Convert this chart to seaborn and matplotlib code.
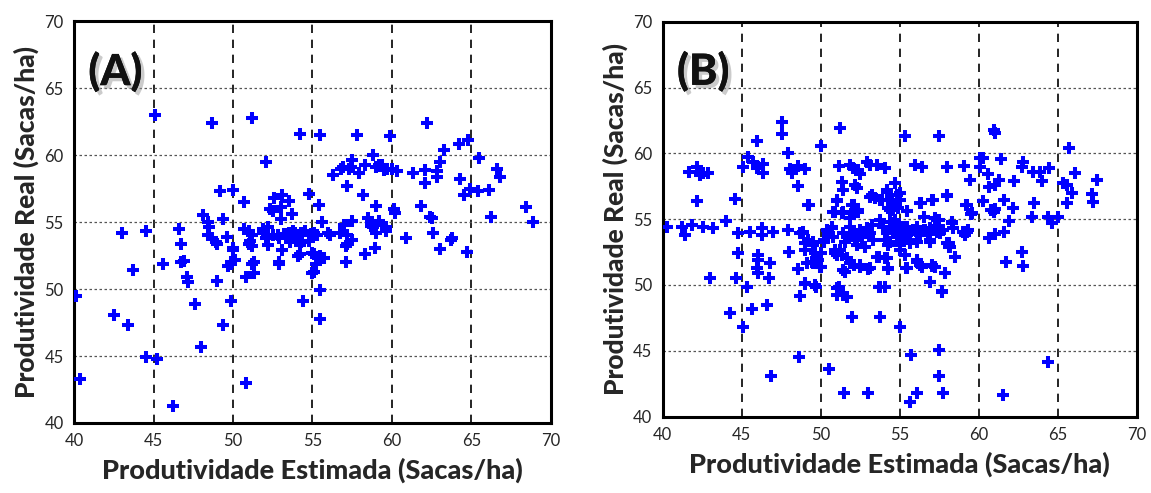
import numpy as np
import pandas as pd
import matplotlib
matplotlib.use("Agg")
import matplotlib.pyplot as plt
import matplotlib.patheffects as pe
import seaborn as sns

# Panel A - estimated vs real yield (sacas/ha)
est_a = [40.1, 40.4, 42.5, 43.0, 43.4, 43.7, 44.5, 44.5, 45.1, 45.2, 45.6, 46.2, 46.6, 46.7, 46.7,
         46.9, 47.1, 47.2, 47.6, 48.0, 48.1, 48.4, 48.4, 48.5, 48.7, 48.7, 48.9, 49.0, 49.0, 49.2,
         49.4, 49.4, 49.6, 49.9, 49.9, 49.9, 50.0, 50.0, 50.0, 50.1, 49.7, 50.7, 50.7, 50.8, 50.8,
         51.0, 51.1, 51.2, 51.2, 51.0, 51.2, 51.2, 51.3, 51.3, 51.9, 51.9, 52.1, 52.1, 52.2, 52.2,
         52.3, 52.5, 52.5, 52.6, 52.8, 52.9, 52.9, 52.9, 53.0, 53.0, 53.1, 53.1, 53.2, 53.4, 53.5,
         53.5, 53.6, 53.6, 53.7, 53.8, 53.9, 54.1, 54.2, 54.2, 54.2, 54.2, 54.3, 54.3, 54.1, 54.4,
         54.5, 54.8, 54.8, 54.9, 55.0, 55.0, 55.1, 55.1, 55.1, 55.2, 55.3, 55.4, 55.4, 55.5, 55.5,
         55.5, 55.5, 55.6, 55.7, 56.0, 56.1, 56.3, 56.7, 56.8, 56.9, 57.0, 57.1, 57.1, 57.2, 57.2,
         57.2, 57.3, 57.4, 57.5, 57.5, 57.5, 57.8, 57.9, 58.2, 58.3, 58.3, 58.5, 58.7, 58.7, 58.8,
         58.8, 58.9, 59.0, 59.0, 59.0, 59.2, 59.2, 59.4, 59.4, 59.5, 59.6, 59.6, 59.7, 59.9, 60.0,
         60.1, 60.2, 60.3, 60.9, 61.3, 61.8, 62.1, 62.1, 62.2, 62.4, 62.5, 62.6, 62.8, 62.8, 63.0,
         63.0, 63.3, 63.7, 63.8, 64.2, 64.3, 64.5, 64.7, 64.8, 64.9, 65.4, 65.5, 66.1, 66.2, 66.6,
         66.8, 68.4, 68.9]
real_a = [49.5, 43.3, 48.1, 54.2, 47.3, 51.4, 54.3, 44.9, 63.0, 44.8, 51.9, 41.3, 54.5, 53.4, 52.0,
          52.1, 50.9, 50.5, 48.9, 45.7, 55.5, 55.0, 54.0, 54.6, 62.4, 53.8, 53.5, 53.4, 50.6, 57.3,
          55.2, 47.3, 53.9, 52.0, 51.9, 49.1, 57.4, 53.1, 52.9, 52.2, 51.7, 56.5, 54.5, 50.9, 43.0,
          54.3, 53.6, 54.0, 53.2, 53.4, 62.8, 51.9, 51.2, 52.0, 54.2, 54.5, 59.5, 53.8, 54.6, 53.3,
          56.0, 55.8, 54.0, 56.8, 54.0, 53.8, 52.0, 51.9, 56.1, 55.2, 57.0, 52.9, 54.1, 54.1, 56.6,
          54.2, 53.5, 53.7, 55.6, 54.3, 54.2, 53.8, 53.3, 54.0, 61.6, 52.6, 53.5, 54.2, 52.5, 49.1,
          54.3, 53.6, 57.1, 54.1, 52.7, 51.2, 52.6, 51.3, 54.2, 51.9, 54.0, 52.4, 56.3, 61.5, 52.5,
          49.9, 47.8, 55.0, 52.3, 54.2, 54.0, 58.5, 54.2, 59.0, 59.1, 54.8, 52.0, 53.2, 57.7, 53.4,
          54.0, 59.0, 59.1, 53.7, 59.6, 55.1, 61.5, 58.7, 57.0, 59.3, 52.6, 55.3, 55.0, 54.7, 60.0,
          54.6, 53.1, 56.2, 59.1, 54.2, 55.1, 59.3, 54.8, 59.3, 58.9, 54.6, 54.3, 59.0, 61.4, 59.0,
          56.0, 55.7, 58.8, 53.8, 58.7, 56.2, 58.9, 57.9, 62.4, 55.4, 55.3, 54.2, 58.8, 58.4, 59.5,
          53.0, 60.4, 53.7, 53.8, 60.8, 58.2, 57.0, 52.8, 61.1, 57.5, 57.3, 59.8, 57.4, 55.4, 59.0,
          58.4, 56.1, 55.0]

# Panel B
est_b = [40.25, 41.24, 41.41, 41.83, 42.57, 43.2, 44.0, 41.66, 42.15, 42.36, 42.57, 42.89, 42.15, 44.6,
         45.06, 45.38, 45.95, 45.73, 46.05, 46.37, 46.37, 45.95, 47.57, 47.53, 47.95, 48.06, 48.58, 49.0,
         48.16, 48.58, 49.28, 50.0, 51.22, 51.12, 51.85, 52.06, 52.38, 52.49, 51.33, 51.43, 52.17, 52.28,
         51.0, 50.9, 51.33, 51.96, 52.17, 52.38, 51.85, 52.91, 53.12, 53.54, 54.07, 53.12, 53.75, 54.18,
         54.7, 54.81, 54.49, 54.39, 54.91, 44.79, 44.79, 43.0, 44.64, 45.32, 44.26, 45.63, 45.06, 46.58,
         46.84, 45.53, 46.27, 46.27, 47.0, 47.95, 48.69, 46.05, 46.05, 45.99, 46.05, 46.79, 46.73, 48.01,
         48.58, 48.69, 49.0, 49.7, 48.64, 50.51, 51.49, 53.01, 49.0, 49.0, 49.53, 49.43, 49.75, 50.0,
         50.0, 50.17, 50.48, 50.7, 50.9, 51.0, 51.33, 51.65, 51.86, 52.49, 53.01, 51.54, 51.0, 51.0,
         51.65, 52.0, 53.75, 53.65, 54.18, 54.22, 53.65, 54.07, 55.0, 55.7, 57.45, 57.5, 56.1, 55.65,
         57.7, 61.54, 64.39, 56.9, 57.65, 57.87, 55.4, 56.07, 56.39, 57.02, 57.23, 58.5, 58.18, 58.1,
         61.73, 62.72, 62.82, 60.67, 61.03, 61.56, 61.92, 63.35, 64.4, 64.61, 65.03, 59.53, 59.0, 59.22,
         55.34, 57.45, 60.93, 61.03, 65.73, 60.08, 60.29, 61.39, 62.82, 62.72, 63.45, 63.87, 64.46, 63.98,
         55.97, 56.39, 57.97, 59.07, 59.45, 60.08, 60.57, 60.67, 61.03, 61.3, 62.23, 66.09, 67.46, 65.31,
         65.6, 65.88, 65.57, 67.15, 67.21, 55.02, 54.56, 55.48, 56.33, 57.07, 58.01, 59.2, 60.25, 60.78,
         61.56, 62.15, 63.5, 60.93, 61.03, 59.13,
         48.9, 49.22, 49.53, 49.64, 49.85, 50.17, 50.38, 50.69, 50.8, 50.9, 51.01, 51.22, 51.43, 51.54,
         51.75, 51.85, 52.07, 52.17, 52.28, 52.49, 52.59, 52.8, 52.91, 53.12, 53.23, 53.33, 53.54, 53.75,
         53.96, 54.07, 54.18, 54.28, 54.39, 54.6, 54.7, 54.81, 55.02, 55.02, 55.23, 55.44, 55.65, 55.86,
         56.07, 56.28, 56.6, 56.81, 56.92, 57.13, 57.34, 57.55, 57.76, 57.97, 58.08, 58.29, 58.39, 58.5,
         59.13, 59.34, 49.11, 49.53, 49.96, 51.43, 52.07, 52.49, 53.12, 54.07, 54.28, 55.44, 56.07, 56.28,
         57.02, 57.23, 57.87, 51.12, 51.43, 53.75, 56.92, 57.66, 49.01, 49.64,
         53.23, 53.44, 53.86, 54.39, 55.02, 55.02, 54.18, 55.44, 56.28, 57.02, 57.97, 49.22, 51.01, 50.8,
         51.43, 52.07, 51.96, 52.38, 54.28, 54.49, 59.24, 59.55,
         54.6, 55.02, 55.44, 55.66, 56.29, 56.5, 56.92, 57.34, 57.45, 57.55, 58.29, 56.92, 55.23, 55.02,
         55.34, 56.08, 55.66, 54.39, 56.5, 57.24]
real_b = [54.43, 54.43, 53.8, 54.56, 54.43, 54.3, 54.89, 58.56, 58.94, 58.34, 58.49, 58.49, 56.4, 56.5,
          58.95, 59.7, 60.94, 59.37, 58.99, 59.2, 58.49, 58.87, 62.4, 61.47, 60.0, 58.82, 59.05, 58.82,
          58.49, 57.55, 56.08, 60.56, 61.95, 59.05, 59.12, 58.87, 58.74, 58.41, 57.85, 57.22, 57.6, 57.35,
          56.41, 55.57, 55.5, 56.08, 55.7, 55.57, 55.07, 59.37, 59.12, 59.12, 58.87, 56.71, 56.46, 57.09,
          57.73, 56.84, 56.33, 55.7, 55.83, 53.98, 52.46, 50.5, 50.5, 49.87, 47.85, 48.15, 46.83, 48.46,
          43.12, 54.05, 54.3, 53.8, 54.05, 54.18, 53.93, 52.28, 51.9, 51.27, 50.89, 51.7, 50.5, 52.54,
          51.2, 49.17, 50.08, 49.87, 44.55, 43.58, 41.78, 41.78, 53.17, 52.66, 53.3, 51.78, 52.16, 52.46,
          51.35, 53.3, 53.93, 54.3, 52.46, 52.28, 52.28, 52.03, 51.65, 51.4, 51.2, 51.02, 49.75, 49.24,
          49.06, 47.6, 47.6, 52.16, 52.03, 51.2, 49.83, 49.87, 46.83, 44.7, 45.03, 43.12, 41.78, 41.1,
          41.78, 41.66, 44.17, 50.2, 49.55, 50.91, 51.27, 51.78, 51.4, 51.45, 51.4, 52.16, 52.92, 53.17,
          51.76, 52.54, 51.45, 53.55, 53.88, 54.0, 54.89, 55.19, 55.19, 54.73, 55.19, 55.39, 54.0, 54.05,
          61.34, 61.34, 61.78, 61.58, 60.44, 59.67, 59.62, 59.57, 59.37, 58.99, 58.56, 58.61, 58.87, 57.93,
          59.12, 58.94, 58.94, 59.04, 57.98, 58.99, 58.43, 57.42, 57.6, 57.98, 57.93, 58.49, 57.98, 57.77,
          57.6, 56.97, 56.26, 56.89, 56.33, 56.97, 55.7, 55.64, 56.26, 56.46, 56.76, 56.08, 56.41, 55.7,
          56.46, 55.83, 56.2, 55.57, 55.8, 53.8,
          54.06, 53.42, 53.04, 52.41, 51.9, 53.42, 54.18, 54.44, 53.68, 52.67, 52.29, 52.67, 53.93, 53.3,
          53.68, 54.44, 53.93, 53.42, 53.04, 54.18, 53.68, 52.92, 54.31, 53.93, 54.56, 53.42, 52.16, 54.94,
          54.44, 53.42, 53.93, 53.04, 54.82, 54.18, 54.94, 53.68, 54.18, 53.04, 54.44, 53.8, 53.42, 54.18,
          54.44, 53.8, 54.18, 53.93, 53.42, 54.18, 54.94, 54.06, 54.18, 53.17, 52.92, 54.82, 54.31, 52.16,
          54.06, 54.18, 51.65, 51.65, 51.4, 51.15, 51.53, 51.53, 51.27, 52.03, 51.27, 51.27, 51.9, 51.53,
          51.53, 51.4, 50.89, 49.88, 49.25, 49.88, 50.26, 49.5, 50.13, 50.01,
          56.84, 56.59, 56.46, 56.46, 56.97, 56.46, 57.22, 55.65, 56.26, 56.46, 56.84, 56.08, 56.46, 55.58,
          55.58, 56.08, 55.58, 55.7, 55.83, 56.08, 56.08, 55.45,
          54.69, 54.31, 54.43, 54.05, 54.05, 54.18, 54.31, 54.05, 54.94, 53.93, 54.69, 53.3, 53.55, 52.66,
          52.28, 53.3, 53.17, 53.3, 55.19, 55.07]

ticks = [40, 45, 50, 55, 60, 65, 70]
panel_labels = ["(A)", "(B)"]
x_label = "Produtividade Estimada (Sacas/ha)"
y_label = "Produtividade Real (Sacas/ha)"

sns.set_style("white")
plt.rcParams['font.family'] = ['Lato', 'DejaVu Sans']

fig = plt.figure(figsize=(11.51, 4.93), dpi=100)
ax_a = fig.add_axes([0.0643, 0.142, 0.4144, 0.815])
ax_b = fig.add_axes([0.5758, 0.155, 0.412, 0.801])

data = [pd.DataFrame({'est': est_a, 'real': real_a}),
        pd.DataFrame({'est': est_b, 'real': real_b})]

for ax, df, lab in zip([ax_a, ax_b], data, panel_labels):
    sns.scatterplot(data=df, x='est', y='real', ax=ax, marker='+', color='#0000ff',
                    s=75, linewidth=2.9, zorder=3)
    ax.set_xlim(40, 70)
    ax.set_ylim(40, 70)
    ax.set_xticks(ticks)
    ax.set_yticks(ticks)
    ax.tick_params(labelsize=12, direction='out', length=4, width=1.5, color='black')
    ax.xaxis.grid(True, linestyle=(0, (5, 4)), color='black', linewidth=1.2)
    ax.yaxis.grid(True, linestyle=(0, (2, 2)), color='#555555', linewidth=0.9)
    ax.set_axisbelow(True)
    for sp in ax.spines.values():
        sp.set_linewidth(2.2)
        sp.set_color('black')
    ax.set_xlabel(x_label, fontsize=19.5, fontweight='black', labelpad=6)
    ax.set_ylabel(y_label, fontsize=19, fontweight='black', labelpad=4)
    ax.text(0.03, 0.875, lab, transform=ax.transAxes, fontsize=31, fontweight='black',
            color='#111111', ha='left', va='center', zorder=5,
            path_effects=[pe.withSimplePatchShadow(offset=(2.5, -2.5), shadow_rgbFace='#999999', alpha=0.5),
                          pe.Normal()])

fig.savefig('out.png', dpi=100)
